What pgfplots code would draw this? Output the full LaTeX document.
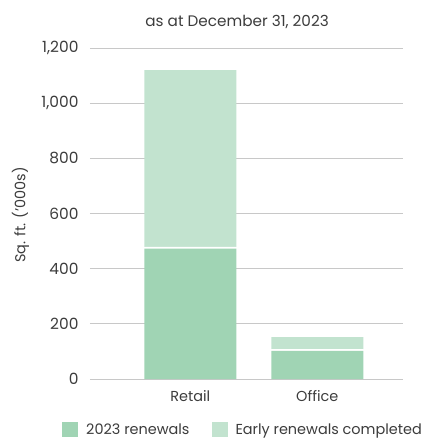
\documentclass[border=0pt]{standalone}
\usepackage{pgfplots}
\pgfplotsset{compat=1.18}
\usepackage{fontspec}
\setmainfont{Poppins}
\definecolor{darkg}{HTML}{A0D4B4}
\definecolor{lightg}{HTML}{C2E3CF}
\definecolor{txt}{HTML}{3C3C3C}
\definecolor{gridc}{HTML}{C8C8C8}
\newcommand{\fs}{\fontsize{14.5}{16}\selectfont}
\begin{document}
\begin{tikzpicture}
\useasboundingbox (-90bp,-61bp) rectangle (340bp,379bp);
\begin{axis}[
  at={(0,0)}, anchor=south west,
  scale only axis, width=313bp, height=331bp,
  ybar stacked, bar width=92bp,
  xmin=-0.79, xmax=1.675,
  ymin=0, ymax=1200,
  xtick={0,1}, xticklabels={Retail,Office},
  ytick={0,200,...,1200},
  /pgf/number format/1000 sep={,},
  /pgf/number format/assume math mode=true,
  axis line style={draw=none},
  major tick length=0pt,
  ymajorgrids, grid style={gridc, line width=0.9bp},
  tick label style={font=\fs, text=txt},
  yticklabel style={font=\fontsize{15.5}{17}\selectfont, xshift=-8bp},
  xticklabel style={yshift=-8bp},
  title={as at December 31, 2023},
  title style={font=\fontsize{15.3}{17}\selectfont, text=txt, at={(axis description cs:0.47,1)}, yshift=10bp},
  ylabel={Sq. ft. ('000s)},
  ylabel style={font=\fs, text=txt, anchor=center, at={(axis description cs:-0.222,0.495)}},
  legend columns=2,
  legend style={draw=none, at={(axis description cs:0.489,-0.155)}, anchor=center,
    font=\fs, text=txt, inner sep=0pt,
    /tikz/every even column/.append style={column sep=20bp}},
  legend image code/.code={\fill[#1] (0bp,-7bp) rectangle (16bp,8bp); \path (22bp,0);},
]
\addplot[fill=darkg, draw=none] coordinates {(0,473) (1,102)};
\addplot[fill=white, draw=none, forget plot] coordinates {(0,6) (1,6)};
\addplot[fill=lightg, draw=none] coordinates {(0,641) (1,44)};
\legend{2023 renewals, Early renewals completed}
\end{axis}
\end{tikzpicture}
\end{document}
